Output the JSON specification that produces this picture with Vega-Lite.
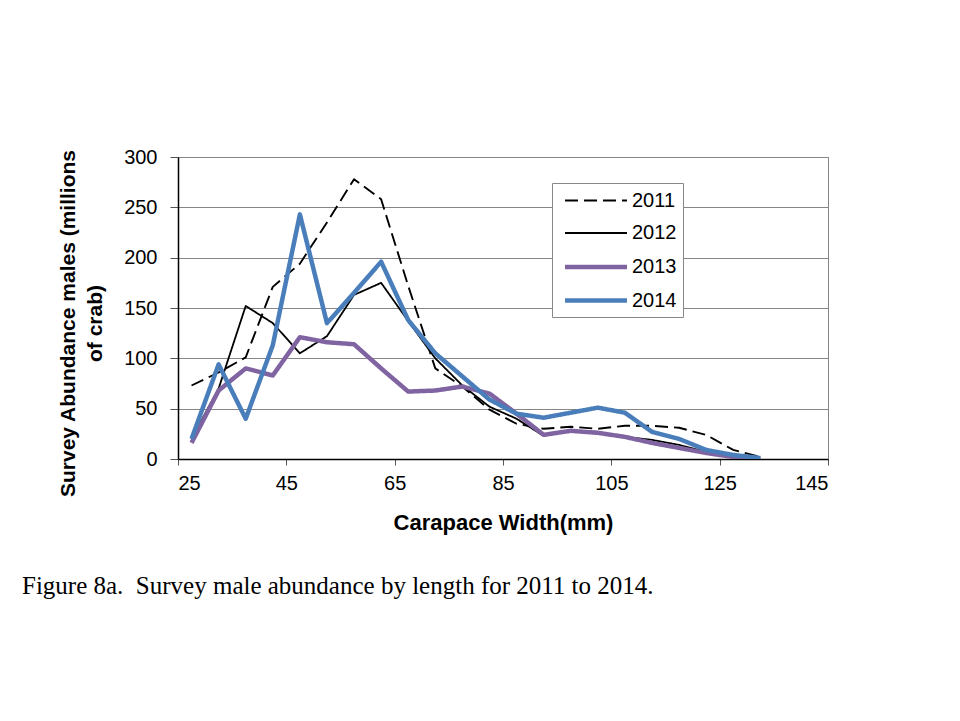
{
  "$schema": "https://vega.github.io/schema/vega-lite/v6.json",
  "width": 650,
  "height": 302,
  "autosize": {"type": "none"},
  "padding": {"left": 178, "top": 157, "right": 132, "bottom": 262},
  "background": "white",
  "title": {
    "text": "Figure 8a. \u00a0Survey male abundance by length for 2011 to 2014.",
    "orient": "bottom",
    "anchor": "start",
    "frame": "group",
    "dx": -156,
    "offset": 41,
    "font": "Liberation Serif",
    "fontSize": 25,
    "fontWeight": "normal",
    "color": "black"
  },
  "data": {
    "values": [
      {"w": 27.5, "year": "2011", "v": 73}, {"w": 32.5, "year": "2011", "v": 86}, {"w": 37.5, "year": "2011", "v": 101}, {"w": 42.5, "year": "2011", "v": 171}, {"w": 47.5, "year": "2011", "v": 194}, {"w": 52.5, "year": "2011", "v": 235}, {"w": 57.5, "year": "2011", "v": 278}, {"w": 62.5, "year": "2011", "v": 258}, {"w": 67.5, "year": "2011", "v": 172}, {"w": 72.5, "year": "2011", "v": 90}, {"w": 77.5, "year": "2011", "v": 72}, {"w": 82.5, "year": "2011", "v": 49}, {"w": 87.5, "year": "2011", "v": 35}, {"w": 92.5, "year": "2011", "v": 30}, {"w": 97.5, "year": "2011", "v": 32}, {"w": 102.5, "year": "2011", "v": 30}, {"w": 107.5, "year": "2011", "v": 33}, {"w": 112.5, "year": "2011", "v": 33}, {"w": 117.5, "year": "2011", "v": 31}, {"w": 122.5, "year": "2011", "v": 24}, {"w": 127.5, "year": "2011", "v": 9}, {"w": 132.5, "year": "2011", "v": 2},
      {"w": 27.5, "year": "2012", "v": 20}, {"w": 32.5, "year": "2012", "v": 70}, {"w": 37.5, "year": "2012", "v": 152}, {"w": 42.5, "year": "2012", "v": 135}, {"w": 47.5, "year": "2012", "v": 105}, {"w": 52.5, "year": "2012", "v": 122}, {"w": 57.5, "year": "2012", "v": 163}, {"w": 62.5, "year": "2012", "v": 175}, {"w": 67.5, "year": "2012", "v": 137}, {"w": 72.5, "year": "2012", "v": 100}, {"w": 77.5, "year": "2012", "v": 73}, {"w": 82.5, "year": "2012", "v": 52}, {"w": 87.5, "year": "2012", "v": 40}, {"w": 92.5, "year": "2012", "v": 23}, {"w": 97.5, "year": "2012", "v": 28}, {"w": 102.5, "year": "2012", "v": 27}, {"w": 107.5, "year": "2012", "v": 22}, {"w": 112.5, "year": "2012", "v": 19}, {"w": 117.5, "year": "2012", "v": 14}, {"w": 122.5, "year": "2012", "v": 7}, {"w": 127.5, "year": "2012", "v": 3}, {"w": 132.5, "year": "2012", "v": 0.5},
      {"w": 27.5, "year": "2013", "v": 16}, {"w": 32.5, "year": "2013", "v": 68}, {"w": 37.5, "year": "2013", "v": 90}, {"w": 42.5, "year": "2013", "v": 83}, {"w": 47.5, "year": "2013", "v": 121}, {"w": 52.5, "year": "2013", "v": 116}, {"w": 57.5, "year": "2013", "v": 114}, {"w": 62.5, "year": "2013", "v": 90}, {"w": 67.5, "year": "2013", "v": 67}, {"w": 72.5, "year": "2013", "v": 68}, {"w": 77.5, "year": "2013", "v": 72}, {"w": 82.5, "year": "2013", "v": 65}, {"w": 87.5, "year": "2013", "v": 45}, {"w": 92.5, "year": "2013", "v": 24}, {"w": 97.5, "year": "2013", "v": 28}, {"w": 102.5, "year": "2013", "v": 26}, {"w": 107.5, "year": "2013", "v": 22}, {"w": 112.5, "year": "2013", "v": 16}, {"w": 117.5, "year": "2013", "v": 11}, {"w": 122.5, "year": "2013", "v": 6}, {"w": 127.5, "year": "2013", "v": 2}, {"w": 132.5, "year": "2013", "v": 0.5},
      {"w": 27.5, "year": "2014", "v": 20}, {"w": 32.5, "year": "2014", "v": 94}, {"w": 37.5, "year": "2014", "v": 40}, {"w": 42.5, "year": "2014", "v": 113}, {"w": 47.5, "year": "2014", "v": 243}, {"w": 52.5, "year": "2014", "v": 135}, {"w": 57.5, "year": "2014", "v": 165}, {"w": 62.5, "year": "2014", "v": 196}, {"w": 67.5, "year": "2014", "v": 138}, {"w": 72.5, "year": "2014", "v": 105}, {"w": 77.5, "year": "2014", "v": 82}, {"w": 82.5, "year": "2014", "v": 59}, {"w": 87.5, "year": "2014", "v": 45}, {"w": 92.5, "year": "2014", "v": 41}, {"w": 97.5, "year": "2014", "v": 46}, {"w": 102.5, "year": "2014", "v": 51}, {"w": 107.5, "year": "2014", "v": 46}, {"w": 112.5, "year": "2014", "v": 27}, {"w": 117.5, "year": "2014", "v": 20}, {"w": 122.5, "year": "2014", "v": 9}, {"w": 127.5, "year": "2014", "v": 4}, {"w": 132.5, "year": "2014", "v": 1}
    ]
  },
  "mark": {"type": "line", "strokeJoin": "round", "strokeCap": "butt", "clip": true},
  "encoding": {
    "x": {
      "field": "w",
      "type": "quantitative",
      "scale": {"domain": [25, 145], "nice": false, "zero": false},
      "axis": {
        "title": "Carapace Width(mm)",
        "values": [25, 45, 65, 85, 105, 125, 145],
        "grid": false,
        "tickSize": 6,
        "labelPadding": 8,
        "titlePadding": 19,
        "titleFontSize": 22
      }
    },
    "y": {
      "field": "v",
      "type": "quantitative",
      "scale": {"domain": [0, 300], "nice": false},
      "axis": {
        "title": ["Survey Abundance males (millions", "of crab)"],
        "values": [0, 50, 100, 150, 200, 250, 300],
        "grid": true,
        "tickSize": 8,
        "labelPadding": 13,
        "titlePadding": 18,
        "titleFontSize": 21,
        "titleLineHeight": 27,
        "titleY": 166
      }
    },
    "color": {
      "field": "year",
      "type": "nominal",
      "scale": {"domain": ["2011", "2012", "2013", "2014"], "range": ["#000000", "#000000", "#8064A2", "#4A7EBB"]},
      "legend": {"title": null}
    },
    "strokeDash": {
      "field": "year",
      "type": "nominal",
      "scale": {"domain": ["2011", "2012", "2013", "2014"], "range": [[13, 6], [1, 0], [1, 0], [1, 0]]},
      "legend": {"title": null}
    },
    "strokeWidth": {
      "field": "year",
      "type": "nominal",
      "scale": {"type": "ordinal", "domain": ["2011", "2012", "2013", "2014"], "range": [1.9, 1.8, 4.5, 4.5]},
      "legend": {"title": null}
    }
  },
  "config": {
    "view": {"stroke": "#868686", "strokeWidth": 1},
    "axis": {
      "labelFont": "Liberation Sans",
      "labelFontSize": 20,
      "labelColor": "black",
      "titleFont": "Liberation Sans",
      "titleFontWeight": "bold",
      "titleColor": "black",
      "domainColor": "black",
      "domainWidth": 1.5,
      "tickColor": "#555555",
      "tickWidth": 1,
      "gridColor": "#868686",
      "gridWidth": 1
    },
    "legend": {
      "orient": "none",
      "legendX": 374,
      "legendY": 26,
      "strokeColor": "#888888",
      "fillColor": "white",
      "padding": 6,
      "labelFont": "Liberation Sans",
      "labelFontSize": 20,
      "labelColor": "black",
      "symbolType": "M-3,0H3",
      "symbolSize": 427,
      "symbolOffset": 25,
      "labelOffset": 23,
      "rowPadding": 10.5
    }
  }
}
